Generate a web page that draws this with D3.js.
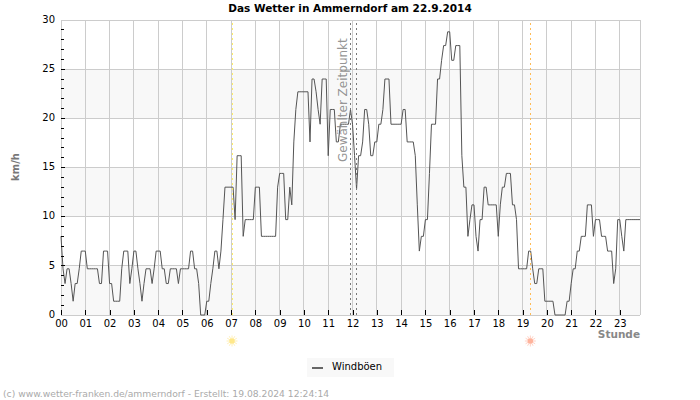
<!DOCTYPE html>
<html>
<head>
<meta charset="utf-8">
<script src="https://cdn.jsdelivr.net/npm/d3@7"></script>
<style>
	html, body { margin: 0; padding: 0; background: #fff; }
	text { font-family: "DejaVu Sans", sans-serif; }
</style>
</head>
<body>
<script>
// wind gusts in km/h, one value every 5 minutes, one row per hour
var gusts = [
	8, 4.7, 3.2, 4.7, 4.7, 3.2, 1.4, 3.2, 3.2, 4.7, 6.5, 6.5,
	6.5, 4.7, 4.7, 4.7, 4.7, 4.7, 4.7, 3.2, 3.2, 6.5, 6.5, 6.5,
	3.2, 3.2, 1.4, 1.4, 1.4, 1.4, 4.7, 6.5, 6.5, 6.5, 3.2, 4.7,
	6.5, 6.5, 4.7, 3.2, 1.4, 3.2, 4.7, 4.7, 4.7, 3.2, 4.7, 6.5,
	6.5, 6.5, 4.7, 4.7, 3.2, 3.2, 4.7, 4.7, 4.7, 4.7, 3.2, 4.7,
	4.7, 4.7, 4.7, 4.7, 6.5, 6.5, 4.7, 4.7, 3.2, 0, 0, 0,
	1.4, 1.4, 3.2, 4.7, 6.5, 6.5, 4.7, 6.5, 9.7, 13, 13, 13,
	13, 13, 9.7, 16.2, 16.2, 16.2, 8, 9.7, 9.7, 9.7, 9.7, 9.7,
	13, 13, 13, 8, 8, 8, 8, 8, 8, 8, 8, 13,
	14.4, 14.4, 14.4, 9.7, 9.7, 13, 11.2, 17.6, 20.9, 22.7, 22.7, 22.7,
	22.7, 22.7, 22.7, 17.6, 24, 24, 22.7, 20.9, 19.4, 24, 24, 24,
	16.2, 20.9, 20.9, 20.9, 17.6, 17.6, 19.4, 19.4, 19.4, 19.4, 19.4, 20.9,
	19.4, 16.2, 12.8, 16.2, 16.2, 17.6, 20.9, 20.9, 19.4, 16.2, 16.2, 17.6,
	17.6, 19.4, 19.4, 20.9, 24, 24, 24, 19.4, 19.4, 19.4, 19.4, 19.4,
	19.4, 20.9, 20.9, 17.6, 17.6, 17.6, 17.6, 16.2, 11.2, 6.5, 8, 8,
	9.7, 9.7, 14.4, 19.4, 19.4, 19.4, 24, 24, 25.9, 27.4, 27.4, 28.8,
	28.8, 25.9, 25.9, 27.4, 27.4, 27.4, 16.2, 13, 13, 8, 9.7, 11.2,
	11.2, 8, 6.5, 9.7, 9.7, 13, 13, 11.2, 11.2, 11.2, 11.2, 11.2,
	8, 11.2, 13, 13, 14.4, 14.4, 14.4, 11.2, 11.2, 9.7, 4.7, 4.7,
	4.7, 4.7, 4.7, 6.5, 6.5, 4.7, 3.2, 3.2, 4.7, 4.7, 4.7, 1.4,
	1.4, 1.4, 1.4, 1.4, 0, 0, 0, 0, 0, 0, 1.4, 1.4,
	3.2, 4.7, 4.7, 6.5, 6.5, 8, 8, 8, 11.2, 11.2, 11.2, 8,
	9.7, 9.7, 9.7, 8, 8, 8, 6.5, 6.5, 6.5, 3.2, 4.7, 9.7,
	9.7, 8, 6.5, 9.7, 9.7, 9.7, 9.7, 9.7, 9.7, 9.7, 9.7
];
var hourLabels = ["00","01","02","03","04","05","06","07","08","09","10","11",
                  "12","13","14","15","16","17","18","19","20","21","22","23"];
var speedTicks = [0, 5, 10, 15, 20, 25, 30];
var bands = [[0, 5], [10, 15], [20, 25]];
var sunrise = 7.04, sunset = 19.32;
var selectedTimes = [11.93, 12.16];

var width = 700, height = 400;
var margin = {top: 20, right: 60, bottom: 85, left: 61};

var svg = d3.select("body").append("svg")
	.attr("width", width)
	.attr("height", height)
	.style("display", "block");

var x = d3.scaleLinear().domain([0, (gusts.length - 1) / 12]).range([margin.left, width - margin.right]);
var y = d3.scaleLinear().domain([0, 30]).range([height - margin.bottom, margin.top]);

// background bands
svg.append("g").selectAll("rect")
	.data(bands)
	.enter().append("rect")
	.attr("x", x.range()[0])
	.attr("width", x.range()[1] - x.range()[0])
	.attr("y", function(d) { return y(d[1]); })
	.attr("height", function(d) { return y(d[0]) - y(d[1]); })
	.attr("fill", "#f8f8f8");

// grid
var grid = svg.append("g").attr("stroke", "#ccc").attr("shape-rendering", "crispEdges");
grid.selectAll(".h").data(speedTicks)
	.enter().append("line").attr("class", "h")
	.attr("x1", x.range()[0]).attr("x2", x.range()[1])
	.attr("y1", function(d) { return y(d); }).attr("y2", function(d) { return y(d); });
grid.selectAll(".v").data(d3.range(hourLabels.length))
	.enter().append("line").attr("class", "v")
	.attr("y1", y.range()[0]).attr("y2", y.range()[1])
	.attr("x1", function(d) { return x(d); }).attr("x2", function(d) { return x(d); });
grid.append("line")
	.attr("x1", x.range()[1]).attr("x2", x.range()[1])
	.attr("y1", y.range()[0]).attr("y2", y.range()[1]);

// gust line
var line = d3.line()
	.x(function(d, i) { return x(i / 12); })
	.y(function(d) { return y(d); })
	.curve(d3.curveLinear);
svg.append("path")
	.datum(gusts)
	.attr("d", line)
	.attr("fill", "none")
	.attr("stroke", "#555")
	.attr("stroke-width", 1);

// selected time label goes over the line, like the original
svg.append("text")
	.attr("transform", "translate(" + (x(selectedTimes[0]) - 4) + ",162) rotate(-90)")
	.attr("font-size", 12)
	.attr("fill", "#888")
	.attr("fill-opacity", 0.9)
	.text("Gewählter Zeitpunkt");

// sunrise, sunset, selected time
function marker(t, color) {
	svg.append("line")
		.attr("x1", x(t)).attr("x2", x(t))
		.attr("y1", y.range()[0]).attr("y2", y.range()[1])
		.attr("stroke", color)
		.attr("stroke-dasharray", "2,3")
		.attr("shape-rendering", "crispEdges");
}
marker(sunrise, "#ffee66");
marker(sunset, "#ffbb55");
selectedTimes.forEach(function(t) { marker(t, "#777"); });

// sun icons below the axis
function sun(t, fill, ray) {
	var g = svg.append("g").attr("transform", "translate(" + x(t) + ",341)");
	g.selectAll("line").data(d3.range(12))
		.enter().append("line")
		.attr("x1", function(d) { return 2.5 * Math.cos(d * Math.PI / 6); })
		.attr("y1", function(d) { return 2.5 * Math.sin(d * Math.PI / 6); })
		.attr("x2", function(d) { return 5.5 * Math.cos(d * Math.PI / 6); })
		.attr("y2", function(d) { return 5.5 * Math.sin(d * Math.PI / 6); })
		.attr("stroke", ray);
	g.append("circle").attr("r", 2.8).attr("fill", fill);
}
sun(sunrise, "#ffe88a", "#fff0b8");
sun(sunset, "#ffb39c", "#ffd3c6");

// axes
var xAxis = d3.axisBottom(x)
	.tickValues(d3.range(hourLabels.length))
	.tickFormat(function(d) { return hourLabels[d]; })
	.tickSize(-5)
	.tickPadding(5);
var gx = svg.append("g")
	.attr("transform", "translate(0," + y.range()[0] + ")")
	.call(xAxis);
gx.select(".domain").remove();
gx.selectAll("text").attr("font-size", 10).attr("font-family", "DejaVu Sans").attr("fill", "#000");
gx.selectAll("line").attr("stroke", "#000").attr("shape-rendering", "crispEdges");

var yAxis = d3.axisLeft(y)
	.tickValues(speedTicks)
	.tickSize(0)
	.tickPadding(6);
var gy = svg.append("g")
	.attr("transform", "translate(" + margin.left + ",-1)")
	.call(yAxis);
gy.select(".domain").remove();
gy.selectAll("text").attr("font-size", 10).attr("font-family", "DejaVu Sans").attr("fill", "#000");

// little ticks on each km/h
svg.append("g").selectAll("line")
	.data(d3.range(1, 30))
	.enter().append("line")
	.attr("x1", margin.left)
	.attr("x2", function(d) { return margin.left + (d % 5 === 0 ? 4 : 3); })
	.attr("y1", function(d) { return y(d); })
	.attr("y2", function(d) { return y(d); })
	.attr("stroke", "#000")
	.attr("shape-rendering", "crispEdges");

// titles
svg.append("text")
	.attr("x", 350).attr("y", 12)
	.attr("text-anchor", "middle")
	.attr("font-size", 10.5)
	.attr("font-weight", "bold")
	.attr("fill", "#000")
	.text("Das Wetter in Ammerndorf am 22.9.2014");

svg.append("text")
	.attr("transform", "translate(19,167) rotate(-90)")
	.attr("text-anchor", "middle")
	.attr("font-size", 10)
	.attr("font-weight", "bold")
	.attr("fill", "#777")
	.text("km/h");

svg.append("text")
	.attr("x", 640).attr("y", 338)
	.attr("text-anchor", "end")
	.attr("font-size", 10.5)
	.attr("font-weight", "bold")
	.attr("fill", "#888")
	.text("Stunde");

// legend
var legend = svg.append("g");
legend.append("rect")
	.attr("x", 307).attr("y", 358)
	.attr("width", 87).attr("height", 19)
	.attr("fill", "#f8f8f8");
legend.append("line")
	.attr("x1", 312).attr("x2", 323)
	.attr("y1", 368).attr("y2", 368)
	.attr("stroke", "#666")
	.attr("stroke-width", 2)
	.attr("shape-rendering", "crispEdges");
legend.append("text")
	.attr("x", 332).attr("y", 370)
	.attr("font-size", 10)
	.attr("fill", "#000")
	.text("Windböen");

svg.append("text")
	.attr("x", 3).attr("y", 397)
	.attr("font-size", 9.2)
	.attr("fill", "#aaa")
	.text("(c) www.wetter-franken.de/ammerndorf - Erstellt: 19.08.2024 12:24:14");
</script>
</body>
</html>
